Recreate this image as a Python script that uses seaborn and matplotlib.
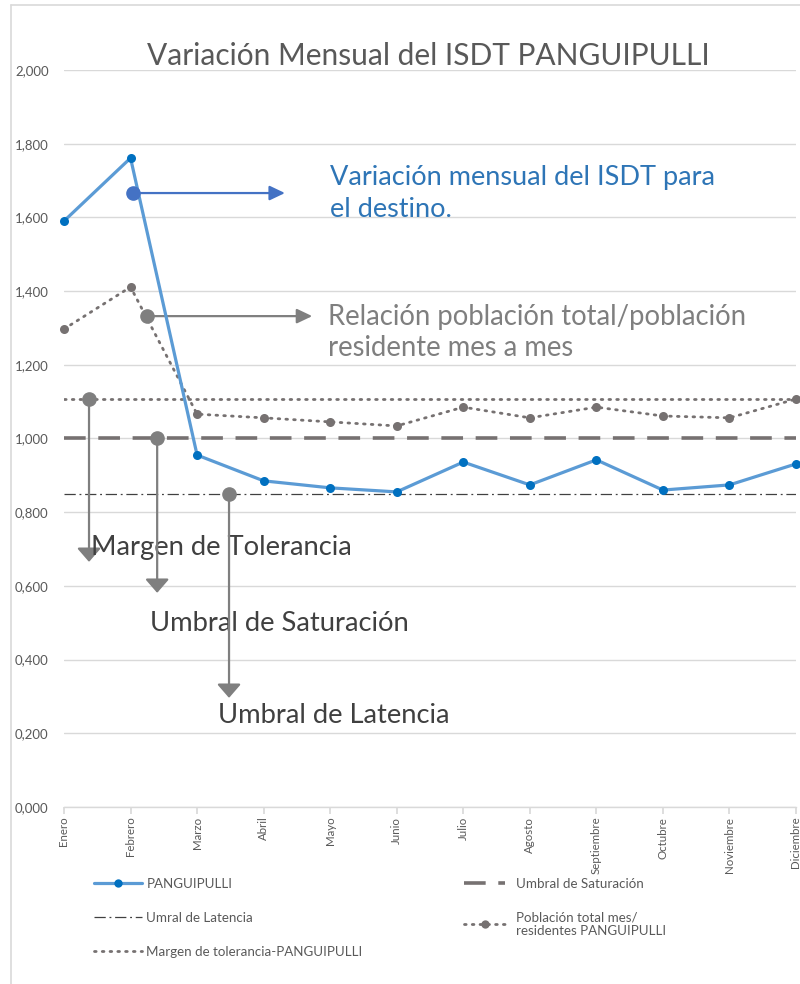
import numpy as np
import pandas as pd
import seaborn as sns
import matplotlib.pyplot as plt
from matplotlib.lines import Line2D

# data
meses = ["Enero", "Febrero", "Marzo", "Abril", "Mayo", "Junio", "Julio",
         "Agosto", "Septiembre", "Octubre", "Noviembre", "Diciembre"]
panguipulli = [1.590, 1.761, 0.955, 0.885, 0.866, 0.855, 0.936, 0.874, 0.942, 0.860, 0.874, 0.931]
poblacion = [1.297, 1.411, 1.066, 1.056, 1.045, 1.034, 1.085, 1.056, 1.085, 1.061, 1.056, 1.107]
margen = 1.107
saturacion = 1.000
latencia = 0.850

sns.set_theme(style="white")
plt.rcParams["font.family"] = ["Lato", "DejaVu Sans"]

df = pd.DataFrame({"x": np.arange(len(meses)), "mes": meses,
                   "PANGUIPULLI": panguipulli, "Poblacion": poblacion})
df["Margen"] = margen
df["Saturacion"] = saturacion
df["Latencia"] = latencia

fig = plt.figure(figsize=(8, 9.84), dpi=100)
ax = fig.add_axes([0.08, 0.1799, 0.915, 0.749])

grey = "#767171"
dots = (0, (0.6, 2.2))
# reference lines
sns.lineplot(data=df, x="x", y="Margen", ax=ax, color=grey, lw=2.0,
             linestyle=dots, dash_capstyle="round", zorder=2)
sns.lineplot(data=df, x="x", y="Saturacion", ax=ax, color=grey, lw=2.6,
             linestyle=(0, (6, 3.5)), zorder=2)
sns.lineplot(data=df, x="x", y="Latencia", ax=ax, color="#404040", lw=0.9,
             linestyle=(0, (9, 3, 1.5, 3)), zorder=2)
# poblacion total / residentes
sns.lineplot(data=df, x="x", y="Poblacion", ax=ax, color=grey, lw=2.0,
             linestyle=dots, dash_capstyle="round",
             marker="o", markersize=6.5, markeredgewidth=0, zorder=3)
ax.lines[-1].set_clip_on(False)
# ISDT
sns.lineplot(data=df, x="x", y="PANGUIPULLI", ax=ax, color="#5B9BD5", lw=2.3,
             marker="o", markersize=6.5, markerfacecolor="#0070C0",
             markeredgewidth=0, zorder=4)
ax.lines[-1].set_clip_on(False)

ax.set_xlim(0, len(meses) - 1)
ax.set_ylim(0, 2)
yt = np.arange(0, 2.01, 0.2)
ax.set_yticks(yt)
ax.set_yticklabels([f"{v:.3f}".replace(".", ",") for v in yt], fontsize=9.5, color="#595959")
ax.set_xticks(df["x"])
ax.set_xticklabels(meses, rotation=90, fontsize=8.3, color="#595959", va="top")
ax.set_xlabel("")
ax.set_ylabel("")
ax.grid(axis="y", color="#D9D9D9", lw=1.0)
ax.set_axisbelow(True)
for s in ["left", "right", "top"]:
    ax.spines[s].set_visible(False)
ax.spines["bottom"].set_color("#D9D9D9")
ax.spines["bottom"].set_linewidth(1.0)
ax.tick_params(axis="x", which="both", bottom=True, length=5, color="#D9D9D9", pad=2)
ax.tick_params(axis="y", length=0, pad=11)

# callouts
ann_grey = "#7F7F7F"


def callout_arrow(x0, y0, x1, y1, color, head):
    ax.plot([x0], [y0], "o", color=color, ms=9.5, zorder=5)
    ax.annotate("", xy=(x1, y1), xytext=(x0, y0),
                arrowprops=dict(arrowstyle=head, mutation_scale=22, color=color,
                                lw=1.6, shrinkA=0, shrinkB=0))


h_head = "-|>,head_length=0.42,head_width=0.2"
v_head = "-|>,head_length=0.38,head_width=0.33"

callout_arrow(1.04, 1.666, 3.32, 1.666, "#4472C4", h_head)
ax.text(4.0, 1.664, "Variación mensual del ISDT para\nel destino.", color="#2E75B6",
        fontsize=19.5, va="center", ha="left", linespacing=1.35)

callout_arrow(1.25, 1.332, 3.73, 1.332, ann_grey, h_head)
ax.text(3.97, 1.287, "Relación población total/población\nresidente mes a mes", color=ann_grey,
        fontsize=19.8, va="center", ha="left", linespacing=1.22)

callouts = [(0.376, margen, 0.665, "Margen de Tolerancia", 0.406, 0.703),
            (1.40, saturacion, 0.581, "Umbral de Saturación", 1.29, 0.499),
            (2.48, latencia, 0.296, "Umbral de Latencia", 2.31, 0.247)]
for xd, yd, yend, label, tx, ty in callouts:
    callout_arrow(xd, yd, xd, yend, ann_grey, v_head)
    ax.text(tx, ty, label, color="#404040", fontsize=19.7, va="center", ha="left")

# title
fig.text(0.535, 0.943, "Variación Mensual del ISDT PANGUIPULLI", ha="center", va="center",
         fontsize=21.5, color="#595959")

# chart border
fig.add_artist(Line2D([0.0138, 0.0138], [0, 0.995], color="#D9D9D9", lw=1.2))
fig.add_artist(Line2D([0.0138, 1.0], [0.995, 0.995], color="#D9D9D9", lw=1.2))

# legends
h1 = [Line2D([], [], color="#5B9BD5", lw=2.3, marker="o", ms=6, mfc="#0070C0", mew=0),
      Line2D([], [], color="#404040", lw=0.9, linestyle=(0, (9, 3, 1.5, 3))),
      Line2D([], [], color=grey, lw=2.0, linestyle=dots, dash_capstyle="round")]
l1 = ["PANGUIPULLI", "Umral de Latencia", "Margen de tolerancia-PANGUIPULLI"]
h2 = [Line2D([], [], color=grey, lw=2.6, linestyle=(0, (6, 3.5))),
      Line2D([], [], color=grey, lw=2.0, linestyle=dots, dash_capstyle="round",
             marker="o", ms=6, mew=0)]
l2 = ["Umbral de Saturación", "Población total mes/\nresidentes PANGUIPULLI"]
leg1 = fig.legend(h1, l1, loc="upper left", bbox_to_anchor=(0.118, 0.108), frameon=False,
                  fontsize=9.6, labelcolor="#595959", handlelength=3.6, handletextpad=0.3,
                  labelspacing=1.65, borderpad=0, borderaxespad=0)
leg2 = fig.legend(h2, l2, loc="upper left", bbox_to_anchor=(0.58, 0.108), frameon=False,
                  fontsize=9.6, labelcolor="#595959", handlelength=3.1, handletextpad=0.8,
                  labelspacing=1.6, borderpad=0, borderaxespad=0)

fig.savefig("out.png", dpi=100, facecolor="white")
